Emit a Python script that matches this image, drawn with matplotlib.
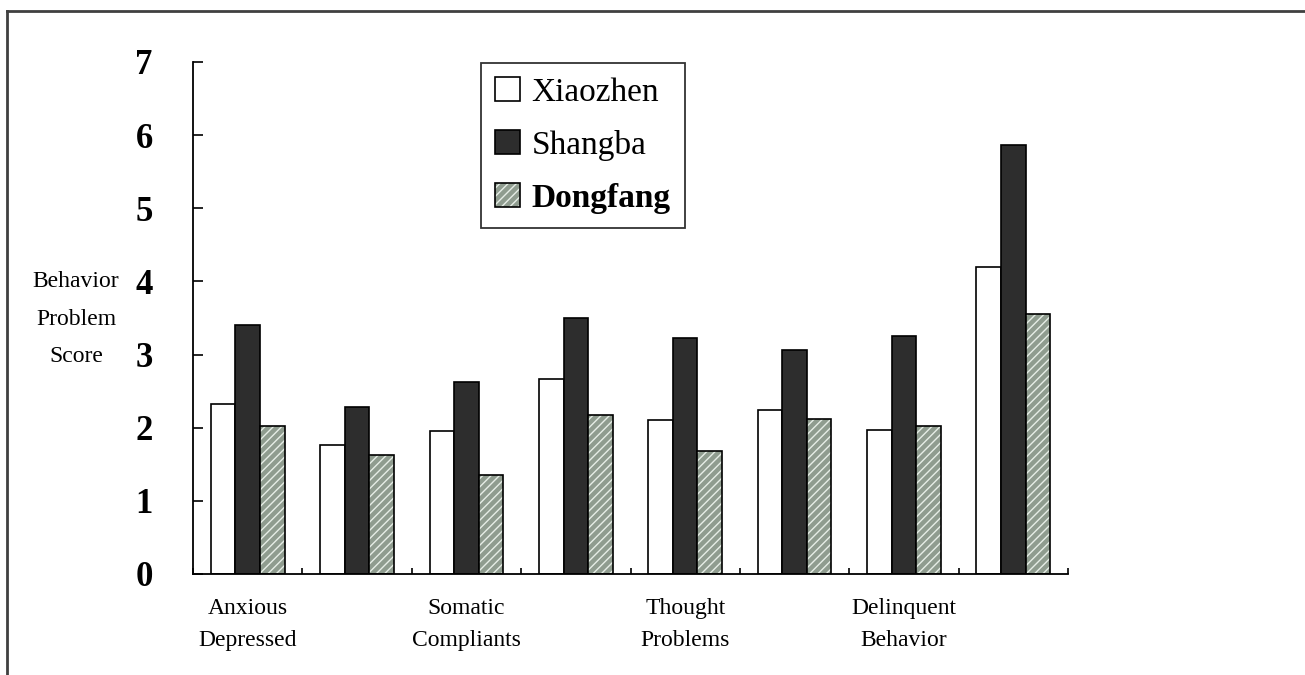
import matplotlib
matplotlib.use("Agg")
import matplotlib.pyplot as plt
from matplotlib.patches import Patch
from matplotlib.legend_handler import HandlerTuple
from matplotlib.lines import Line2D
import numpy as np

# ---- data ----
categories = ['Anxious\nDepressed', '', 'Somatic\nCompliants', '', 'Thought\nProblems', '',
              'Delinquent\nBehavior', '']
series_names = ['Xiaozhen', 'Shangba', 'Dongfang']
xiaozhen = [2.33, 1.77, 1.95, 2.66, 2.10, 2.24, 1.97, 4.20]
shangba = [3.41, 2.29, 2.63, 3.50, 3.23, 3.06, 3.25, 5.87]
dongfang = [2.02, 1.63, 1.36, 2.17, 1.68, 2.12, 2.03, 3.55]
y_ticks = [0, 1, 2, 3, 4, 5, 6, 7]
y_label = 'Behavior\nProblem\nScore'

plt.rcParams['font.family'] = ['Liberation Serif', 'DejaVu Serif']
plt.rcParams['hatch.linewidth'] = 1.0

W, H = 1305, 675
fig = plt.figure(figsize=(W / 100, H / 100), dpi=100)
fig.patch.set_facecolor('white')
ax = fig.add_axes([193 / W, 1 - 574 / H, 875 / W, 512 / H])

n = len(xiaozhen)
x = np.arange(n) + 0.5
bw = 0.225
HATCH_FACE = '#8f9c8f'
HATCH_LINE = '#e6ede6'
DARK = '#2d2d2d'

ax.bar(x - bw, xiaozhen, bw, facecolor='white', edgecolor='black', linewidth=1.2, zorder=2)
ax.bar(x, shangba, bw, facecolor=DARK, edgecolor='black', linewidth=1.2, zorder=2)
ax.bar(x + bw, dongfang, bw, facecolor=HATCH_FACE, edgecolor=HATCH_LINE, hatch='////',
       linewidth=0, zorder=2)
ax.bar(x + bw, dongfang, bw, fill=False, edgecolor='black', linewidth=1.2, zorder=3)

ax.set_xlim(0, n)
ax.set_ylim(0, 7)

for s in ['top', 'right']:
    ax.spines[s].set_visible(False)
for s in ['left', 'bottom']:
    ax.spines[s].set_linewidth(1.3)
    ax.spines[s].set_color('black')

ax.set_yticks(y_ticks)
ax.set_yticklabels([str(t) for t in y_ticks], fontsize=25, fontweight='bold')
ax.tick_params(axis='y', direction='in', length=7.5, width=1.2, pad=29)

ax.set_xticks(np.arange(n + 1))
ax.set_xticklabels([])
ax.tick_params(axis='x', which='major', direction='in', length=4.5, width=1.2)
ax.set_xticks(x, minor=True)
ax.set_xticklabels(categories, minor=True, fontsize=17, linespacing=1.68)
ax.tick_params(axis='x', which='minor', length=0, pad=17.5)

fig.text(76 / W, 1 - 319 / H, y_label, ha='center', va='center', fontsize=17,
         linespacing=2.05, multialignment='center')

handles = [
    Patch(facecolor='white', edgecolor='black', linewidth=1.2),
    Patch(facecolor=DARK, edgecolor='black', linewidth=1.2),
    (Patch(facecolor=HATCH_FACE, edgecolor=HATCH_LINE, hatch='////', linewidth=0),
     Patch(fill=False, edgecolor='black', linewidth=1.2)),
]
leg = fig.legend(handles, series_names, loc='upper left',
                 bbox_to_anchor=(481 / W, 1 - 63 / H), borderaxespad=0,
                 fontsize=24, frameon=True, fancybox=False, edgecolor='black',
                 handlelength=0.75, handleheight=0.75, handletextpad=0.35,
                 labelspacing=0.66, borderpad=0.42,
                 handler_map={tuple: HandlerTuple(ndivide=1, pad=0)})
leg.get_frame().set_linewidth(1.3)
leg.get_texts()[2].set_fontweight('bold')

# figure frame (top and left edges visible)
fig.add_artist(Line2D([7 / W, 1], [1 - 11 / H, 1 - 11 / H], transform=fig.transFigure,
                      color='#404040', linewidth=2))
fig.add_artist(Line2D([7 / W, 7 / W], [0, 1 - 11 / H], transform=fig.transFigure,
                      color='#404040', linewidth=2))

fig.savefig('out.png', dpi=100)
